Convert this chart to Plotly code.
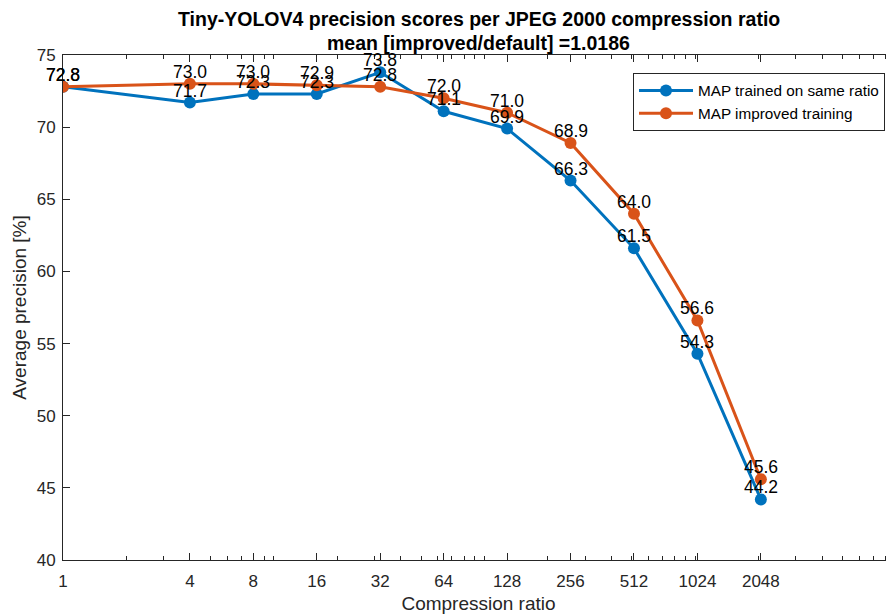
import math
import plotly.graph_objects as go

ratios = [1, 4, 8, 16, 32, 64, 128, 256, 512, 1024, 2048]
map_same_ratio = [72.8, 71.7, 72.3, 72.3, 73.8, 71.1, 69.9, 66.3, 61.6, 54.3, 44.2]
map_improved = [72.8, 73.0, 73.0, 72.9, 72.8, 72.0, 71.0, 68.9, 64.0, 56.6, 45.6]
label_same = ["72.8", "71.7", "72.3", "72.3", "73.8", "71.1", "69.9", "66.3", "61.5", "54.3", "44.2"]
label_improved = ["72.8", "73.0", "73.0", "72.9", "72.8", "72.0", "71.0", "68.9", "64.0", "56.6", "45.6"]
x_ticks = [1, 4, 8, 16, 32, 64, 128, 256, 512, 1024, 2048]
y_ticks = [40, 45, 50, 55, 60, 65, 70, 75]
minor_x = [d * 10 ** k for k in range(0, 4) for d in range(1, 10)]
title_lines = ["Tiny-YOLOV4 precision scores per JPEG 2000 compression ratio",
               "mean [improved/default] =1.0186"]

BLUE = "#0072BD"
ORANGE = "#D95319"
AX = "#262626"
FONT = "Liberation Sans, Arial, sans-serif"

# The page body has an 8px default margin, so the figure is drawn 8px smaller
W, H = 886, 608
L, T, B = 55, 47, 56
PW, PH = W - L, H - T - B

fig = go.Figure()
fig.add_trace(go.Scatter(
    x=ratios, y=map_same_ratio, mode="lines+markers",
    name="MAP trained on same ratio",
    line=dict(color=BLUE, width=3), marker=dict(color=BLUE, size=12)))
fig.add_trace(go.Scatter(
    x=ratios, y=map_improved, mode="lines+markers",
    name="MAP improved training",
    line=dict(color=ORANGE, width=3), marker=dict(color=ORANGE, size=12)))

annotations = []
for xs, ys, labs in [(ratios, map_same_ratio, label_same), (ratios, map_improved, label_improved)]:
    for xv, yv, lab in zip(xs, ys, labs):
        annotations.append(dict(
            x=math.log10(xv), y=yv, xref="x", yref="y", text=lab,
            showarrow=False, xanchor="center", yanchor="bottom", yshift=0,
            font=dict(family=FONT, size=17.5, color="black")))

for yc, line in zip([11, 35], title_lines):
    annotations.append(dict(
        x=0.5, y=(H - B - yc) / PH, xref="paper", yref="paper",
        text="<b>" + line + "</b>", showarrow=False, borderpad=0,
        xanchor="center", yanchor="middle",
        font=dict(family=FONT, size=19.5, color="black")))

fig.update_layout(
    width=W, height=H,
    margin=dict(l=L, r=0, t=T, b=B, pad=0),
    paper_bgcolor="white", plot_bgcolor="white",
    font=dict(family=FONT, color=AX),
    xaxis=dict(
        type="log", range=[0, 3.943], automargin=False,
        tickmode="array", tickvals=x_ticks, ticktext=[str(v) for v in x_ticks],
        ticks="inside", ticklen=7, tickwidth=1, tickcolor=AX,
        ticklabelstandoff=6,
        showline=True, linecolor=AX, linewidth=1, mirror="ticks",
        showgrid=False, zeroline=False,
        tickfont=dict(family=FONT, size=17, color=AX),
        minor=dict(tickmode="array", tickvals=minor_x, ticks="inside", ticklen=4,
                   tickcolor=AX, tickwidth=1, showgrid=False),
        title=dict(text="Compression ratio", font=dict(family=FONT, size=19, color=AX), standoff=6),
    ),
    yaxis=dict(
        range=[40, 75], tickmode="array", tickvals=y_ticks, automargin=False,
        ticks="inside", ticklen=7, tickwidth=1, tickcolor=AX,
        ticklabelstandoff=3,
        showline=True, linecolor=AX, linewidth=1, mirror=False,
        showgrid=False, zeroline=False,
        tickfont=dict(family=FONT, size=17, color=AX),
        title=dict(text="Average precision [%]", font=dict(family=FONT, size=19, color=AX), standoff=5),
    ),
    legend=dict(
        x=(625 - L) / PW, y=(H - B - 65) / PH, xanchor="left", yanchor="top",
        bgcolor="white", bordercolor=AX, borderwidth=1,
        font=dict(family=FONT, size=15.3, color="black"),
        itemwidth=54, tracegroupgap=0),
    annotations=annotations,
    showlegend=True,
)

fig.write_html("out.html")
